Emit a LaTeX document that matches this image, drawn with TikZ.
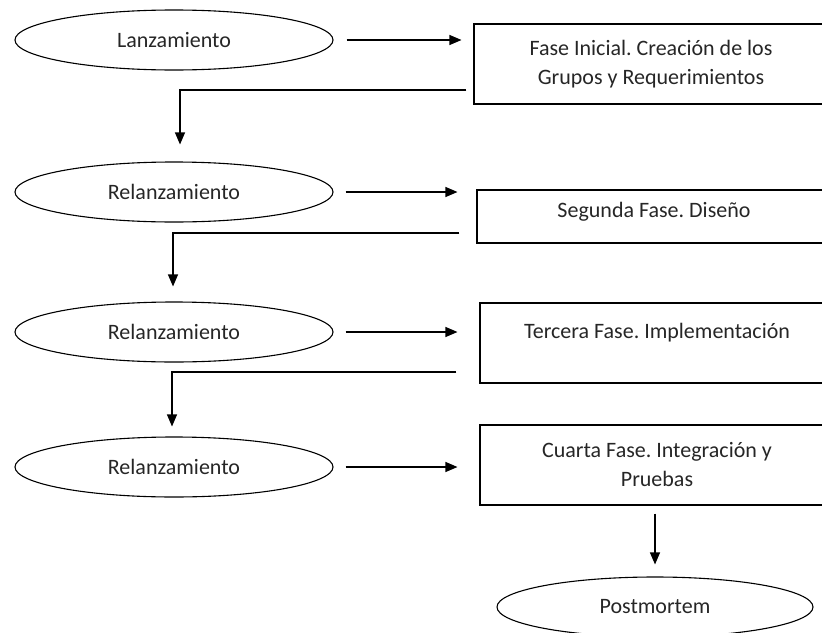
\documentclass[tikz,border=0pt]{standalone}
\usepackage{fontspec}
\setmainfont{Carlito}
\usetikzlibrary{shapes.geometric,arrows.meta}
\frenchspacing
\begin{document}
\begin{tikzpicture}[x=1pt,y=-1pt,
  every node/.style={font=\fontsize{22}{29}\selectfont, text=black!85},
  oval/.style={draw, ellipse, line width=1.1pt, minimum width=318pt, minimum height=60pt, inner sep=0pt},
  phase/.style={draw, rectangle, line width=1.1pt, minimum width=354pt, align=center, inner sep=0pt},
  flow/.style={line width=1.1pt, -{Triangle[length=12pt,width=10pt]}}]
\useasboundingbox (0,0) rectangle (822,632);
\clip (0,0) rectangle (822,632);

% events (left column) and phases (right column)
\node[oval] (e0) at (174,40) {Lanzamiento};
\node[phase, minimum height=80pt] (b1) at (651,64) {Fase Inicial. Creación de los\\Grupos y Requerimientos};
\node[oval] (e1) at (174,192) {Relanzamiento};
\node[phase, minimum height=53pt, text height=16pt, text depth=14pt] (b2) at (654,216.5) {Segunda Fase. Diseño};
\node[oval] (e2) at (174,332) {Relanzamiento};
\node[phase, minimum height=80pt, text height=15pt, text depth=25pt] (b3) at (657,343) {Tercera Fase. Implementación};
\node[oval] (e3) at (174,467) {Relanzamiento};
\node[phase, minimum height=80pt] (b4) at (657,465) {Cuarta Fase. Integración y\\Pruebas};
\node[oval, minimum width=316pt] (e4) at (655,607) {Postmortem};

% event -> phase
\draw[flow, shorten <=13pt, shorten >=12pt] (e0.east) -- (e0.east -| b1.west);
\draw[flow, shorten <=12pt, shorten >=19pt] (e1.east) -- (e1.east -| b2.west);
\draw[flow, shorten <=12pt, shorten >=22pt] (e2.east) -- (e2.east -| b3.west);
\draw[flow, shorten <=12pt, shorten >=22pt] (e3.east) -- (e3.east -| b4.west);

% phase -> next event (elbow connectors)
\coordinate (k1) at (180,90);
\coordinate (k2) at (173,233);
\coordinate (k3) at (172,372);
\draw[flow, shorten <=7pt, shorten >=17pt] (b1.west |- k1) -| (e1.north -| k1);
\draw[flow, shorten <=17pt, shorten >=15pt] (b2.west |- k2) -| (e2.north -| k2);
\draw[flow, shorten <=23pt, shorten >=10pt] (b3.west |- k3) -| (e3.north -| k3);

% last phase -> postmortem
\draw[flow, shorten <=8pt, shorten >=12pt] (b4.south -| e4.north) -- (e4.north);
\end{tikzpicture}
\end{document}
